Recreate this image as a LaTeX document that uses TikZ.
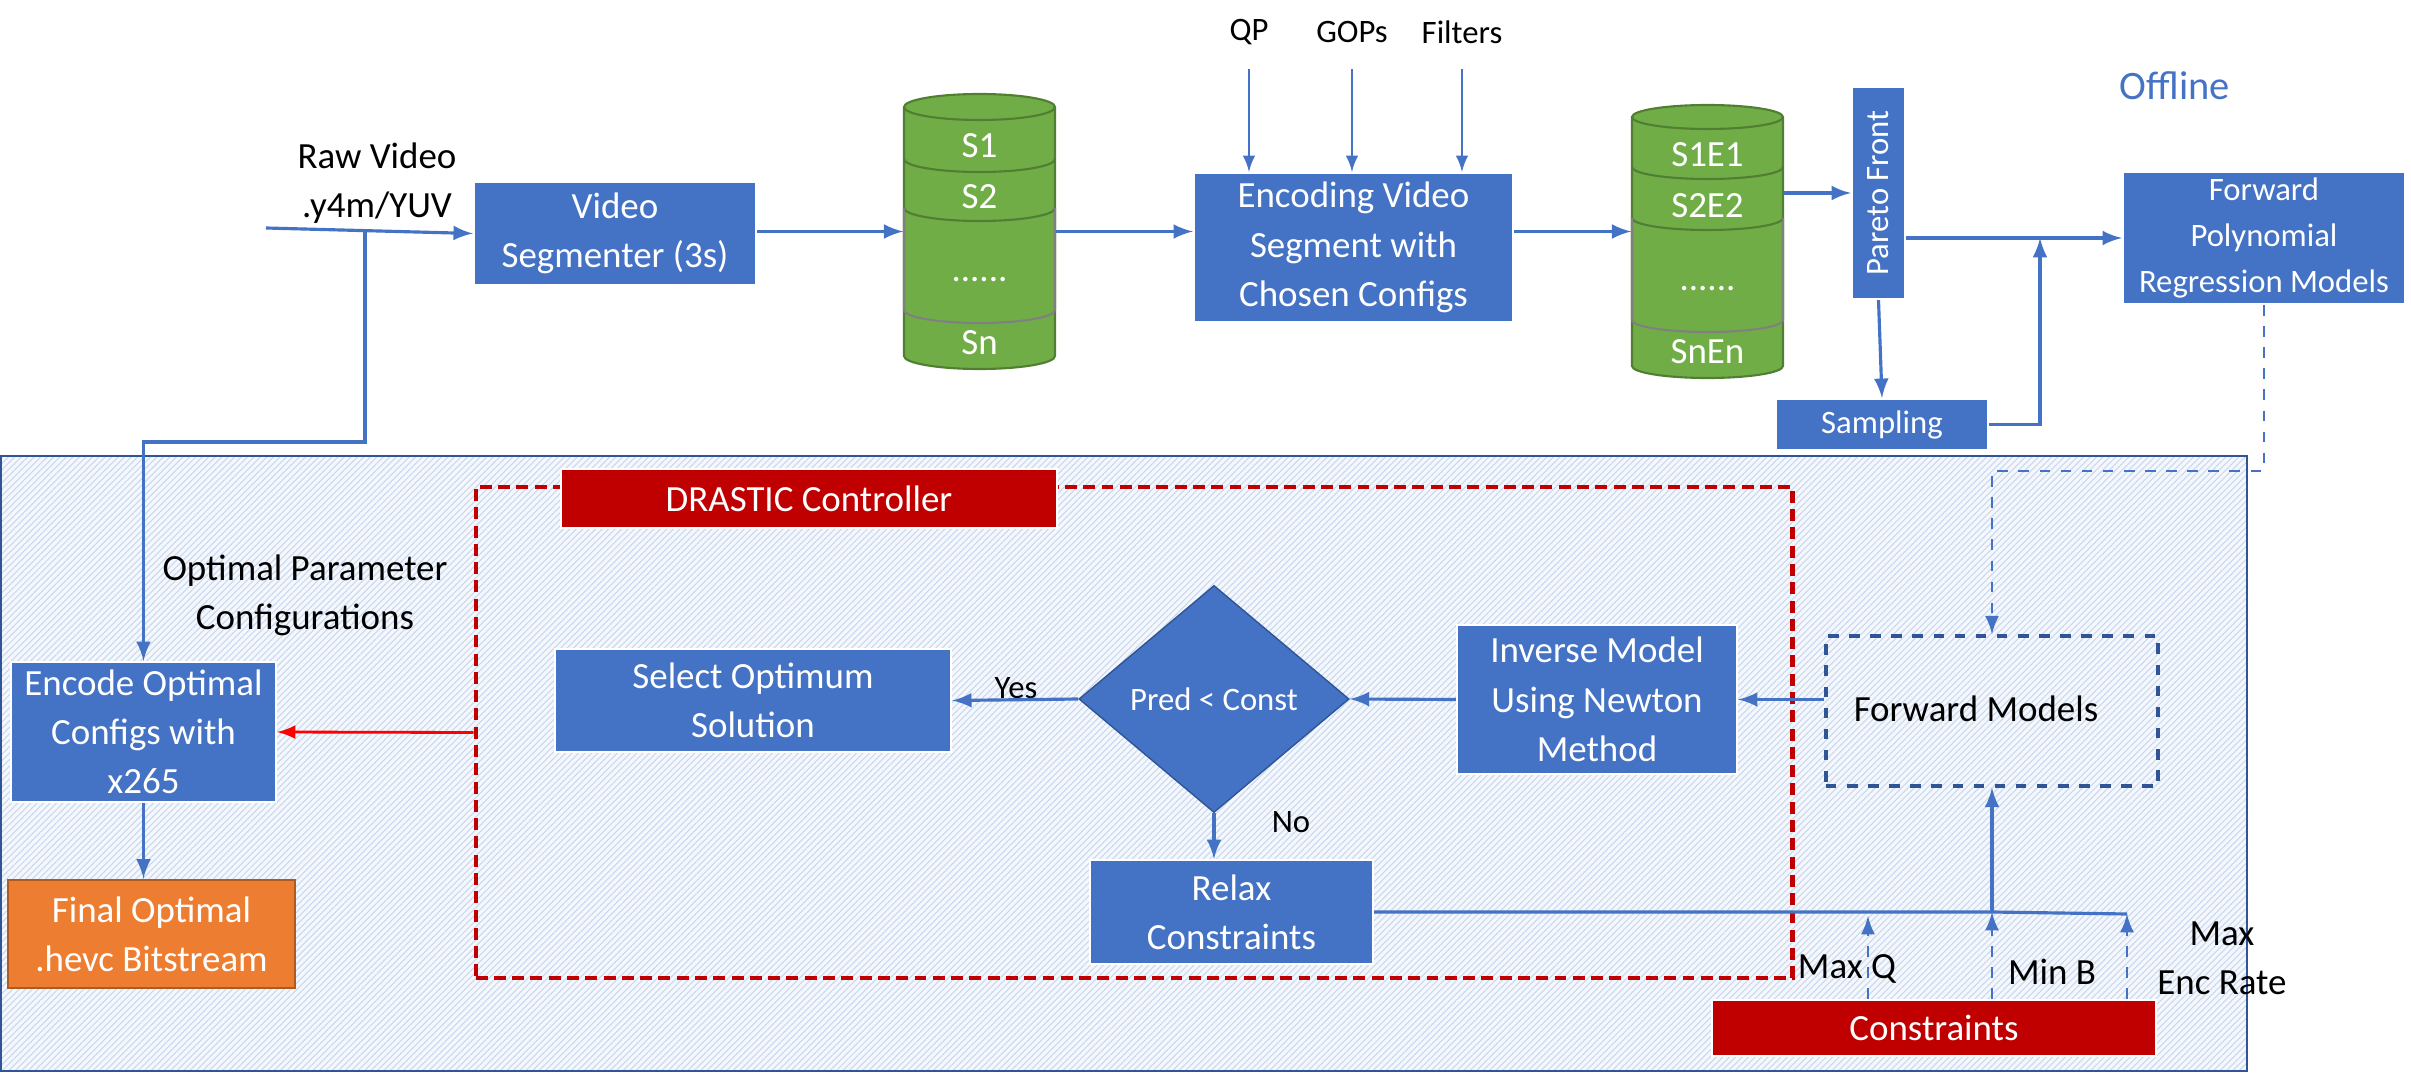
\documentclass[tikz,border=0pt]{standalone}
\usepackage{fontspec}
\setmainfont{Carlito}
\usetikzlibrary{arrows.meta,shapes.geometric,patterns.meta}
\definecolor{boxblue}{HTML}{4472C4}
\definecolor{darkblue}{HTML}{2F5597}
\definecolor{dbgreen}{HTML}{70AD47}
\definecolor{dbedge}{HTML}{507E32}
\definecolor{ctrlred}{HTML}{C00000}
\definecolor{outorange}{HTML}{ED7D31}
\definecolor{outedge}{HTML}{AE5A21}
\definecolor{panelfill}{HTML}{F4F7FC}
\definecolor{hatch}{HTML}{C9D7EF}
\newcommand{\midsize}{\fontsize{10.5}{12.8}\selectfont}
\newcommand{\smallsize}{\fontsize{9.3}{11.4}\selectfont}

\begin{document}
\begin{tikzpicture}[x=0.01cm,y=-0.01cm,
    block/.style={fill=boxblue,draw=white,line width=0.6pt,text=white,align=center,inner sep=0pt,font=\midsize},
    txt/.style={align=center,inner sep=0pt,font=\midsize},
    hold/.style={inner sep=0pt},
    conn/.style={draw=boxblue,line width=0.9pt,-latex},
    thinconn/.style={draw=boxblue,line width=0.6pt,-latex},
    dashconn/.style={draw=boxblue,line width=0.8pt,dashed,-latex},
    redconn/.style={draw=red,line width=0.8pt,-latex},
    dbbody/.style={fill=dbgreen,draw=dbedge,line width=0.6pt},
    dbline/.style={draw=dbedge,line width=0.6pt},
    dbgray/.style={draw=gray,line width=0.6pt},
    dbtxt/.style={text=white,inner sep=0pt,font=\midsize}]
    \useasboundingbox (0,0) rectangle (2411,1073);
    \draw[draw=darkblue,line width=0.8pt,preaction={fill=panelfill},
        pattern={Lines[angle=45,distance=1.3pt,line width=0.3pt]},pattern color=hatch]
        (1,456) rectangle (2247,1071);

    \node[txt] (raw) at (377,183) {Raw Video\\[1.2pt].y4m/YUV};
    \node[block,minimum width=2.82cm,minimum height=1.03cm] (seg) at (615,233.5) {Video\\[1.2pt]Segmenter (3s)};

    \node[hold,minimum width=1.51cm,minimum height=2.75cm] (db1) at (979.5,231.5) {};
    \draw[dbbody] (904,107) -- (904,356) arc (180:0:75.5 and 13) -- (1055,107) arc (0:-180:75.5 and 13) -- cycle;
    \draw[dbline] (904,107) arc (180:0:75.5 and 13);
    \foreach \y in {159,208}
        \draw[dbline] (904,\y) arc (180:0:75.5 and 13);
    \draw[dbgray] (904,208) -- (904,310) arc (180:0:75.5 and 13) -- (1055,208);
    \node[dbtxt] (s1) at (979.5,146) {S1};
    \node[dbtxt] (s2) at (979.5,197) {S2};
    \node[dbtxt] (sdots) at (979.5,280) {......};
    \node[dbtxt] (sn) at (979.5,343) {Sn};

    \node[txt,font=\smallsize] (qp) at (1249,32) {QP};
    \node[txt,font=\smallsize] (gop) at (1352,32) {GOPs};
    \node[txt,font=\smallsize] (flt) at (1462,32) {Filters};
    \node[block,minimum width=3.19cm,minimum height=1.49cm] (enc) at (1353.5,247.5) {Encoding Video\\[1.2pt]Segment with\\[1.2pt]Chosen Configs};

    \node[hold,minimum width=1.51cm,minimum height=2.74cm] (db2) at (1707.5,241) {};
    \draw[dbbody] (1632,117) -- (1632,366) arc (180:0:75.5 and 12) -- (1783,117) arc (0:-180:75.5 and 12) -- cycle;
    \draw[dbline] (1632,117) arc (180:0:75.5 and 12);
    \foreach \y in {167,218}
        \draw[dbline] (1632,\y) arc (180:0:75.5 and 12);
    \draw[dbgray] (1632,218) -- (1632,320) arc (180:0:75.5 and 12) -- (1783,218);
    \node[dbtxt] (se1) at (1707.5,155) {S1E1};
    \node[dbtxt] (se2) at (1707.5,206) {S2E2};
    \node[dbtxt] (sedots) at (1707.5,289) {......};
    \node[dbtxt] (sen) at (1707.5,352) {SnEn};

    \node[block,font=\smallsize,minimum width=0.53cm,minimum height=2.12cm] (pareto) at (1878.5,193) {\rotatebox{90}{Pareto Front}};
    \node[block,font=\smallsize,minimum width=2.12cm,minimum height=0.51cm] (samp) at (1882,424.5) {Sampling};
    \node[block,font=\smallsize,minimum width=2.82cm,minimum height=1.32cm] (fpoly) at (2264,238) {Forward\\[1.6pt]Polynomial\\[1.6pt]Regression Models};
    \node[txt,text=boxblue,font=\fontsize{11.5}{14}\selectfont] (offline) at (2175,86) {Offline};

    \node[hold,draw=ctrlred,line width=1.2pt,dash pattern=on 3.4pt off 1.8pt,minimum width=13.16cm,minimum height=4.91cm] (ctrl) at (1134,732.5) {};
    \node[block,fill=ctrlred,minimum width=4.96cm,minimum height=0.59cm] (ctrlname) at (809,498.5) {DRASTIC Controller};

    \node[txt] (optcfg) at (305,595) {Optimal Parameter\\[1.2pt]Configurations};
    \node[block,minimum width=2.65cm,minimum height=1.40cm] (encopt) at (143.5,732) {Encode Optimal\\[1.2pt]Configs with\\[1.2pt]x265};
    \node[block,fill=outorange,draw=outedge,line width=0.8pt,minimum width=2.87cm,minimum height=1.08cm] (final) at (151.5,934) {Final Optimal\\[1.2pt].hevc Bitstream};

    \node[block,minimum width=3.96cm,minimum height=1.03cm] (sel) at (753,700.5) {Select Optimum\\[1.2pt]Solution};
    \node[block,shape=diamond,draw=darkblue,line width=0.4pt,font=\smallsize,minimum width=2.70cm,minimum height=2.27cm] (dec) at (1214,699) {Pred < Const};
    \node[block,minimum width=2.80cm,minimum height=1.49cm] (inv) at (1597,699.5) {Inverse Model\\[1.2pt]Using Newton\\[1.2pt]Method};
    \node[block,minimum width=2.83cm,minimum height=1.04cm] (relax) at (1231.5,912) {Relax\\[1.2pt]Constraints};
    \node[txt,font=\smallsize] (yes) at (1016,688) {Yes};
    \node[txt,font=\smallsize] (no) at (1291,822) {No};

    \node[hold,draw=darkblue,line width=1pt,dashed,minimum width=3.32cm,minimum height=1.50cm] (fmod) at (1992,711) {};
    \node[txt] (fmodname) at (1976,709) {Forward Models};
    \node[block,fill=ctrlred,minimum width=4.44cm,minimum height=0.56cm] (cons) at (1934,1028) {Constraints};
    \node[txt] (maxq) at (1847,969) {Max Q};
    \node[txt] (minb) at (2052,972) {Min B};
    \node[txt] (maxenc) at (2222,958) {Max\\[1.2pt]Enc Rate};

    \coordinate (rawin) at (266,228);
    \coordinate (rawtap) at (365,230.6);
    \coordinate (tapbend) at (365,442);
    \coordinate (join) at (2040,238);
    \coordinate (fturn) at (2264,471);
    \coordinate (bus) at (1992,912);
    \coordinate (busend) at (2127,914);
    \coordinate (qtip) at (1868,916);

    \draw[conn] (rawin) -- (seg.west);
    \draw[conn] (rawtap) -- (tapbend) -| (encopt.north);
    \draw[conn] (seg.east |- db1.west) -- (db1.west);
    \draw[conn] (db1.east) -- (db1.east -| enc.west);
    \draw[thinconn] ([yshift=-0.37cm]qp.center) -- (qp |- enc.north);
    \draw[thinconn] ([yshift=-0.37cm]gop.center) -- (gop |- enc.north);
    \draw[thinconn] ([yshift=-0.37cm]flt.center) -- (flt |- enc.north);
    \draw[conn] (enc.east |- db1.east) -- (db2.west |- db1.east);
    \draw[conn] (db2.east |- pareto.west) -- (pareto.west);
    \draw[conn] (pareto.east |- fpoly.west) -- (fpoly.west);
    \draw[conn] (pareto.south) -- (samp.north);
    \draw[conn] (samp.east) -| (join);
    \draw[dashconn] (fpoly.south) -- (fturn) -| (fmod.north);
    \draw[conn] (fmod.west |- inv.east) -- (inv.east);
    \draw[conn] (inv.west) -- (dec.east);
    \draw[conn] (dec.west) -- (sel.east);
    \draw[conn] (dec.south) -- (dec.south |- relax.north);
    \draw[redconn] (ctrl.west) -- (encopt.east);
    \draw[conn] (encopt.south) -- (encopt.south |- final.north);
    \draw[conn,-] (relax.east) -- (bus) -- (busend);
    \draw[conn] (bus) -- (fmod.south);
    \draw[dashconn] (cons.north -| qtip) -- (qtip);
    \draw[dashconn] (cons.north -| bus) -- (bus);
    \draw[dashconn] (cons.north -| busend) -- (busend);
\end{tikzpicture}
\end{document}
